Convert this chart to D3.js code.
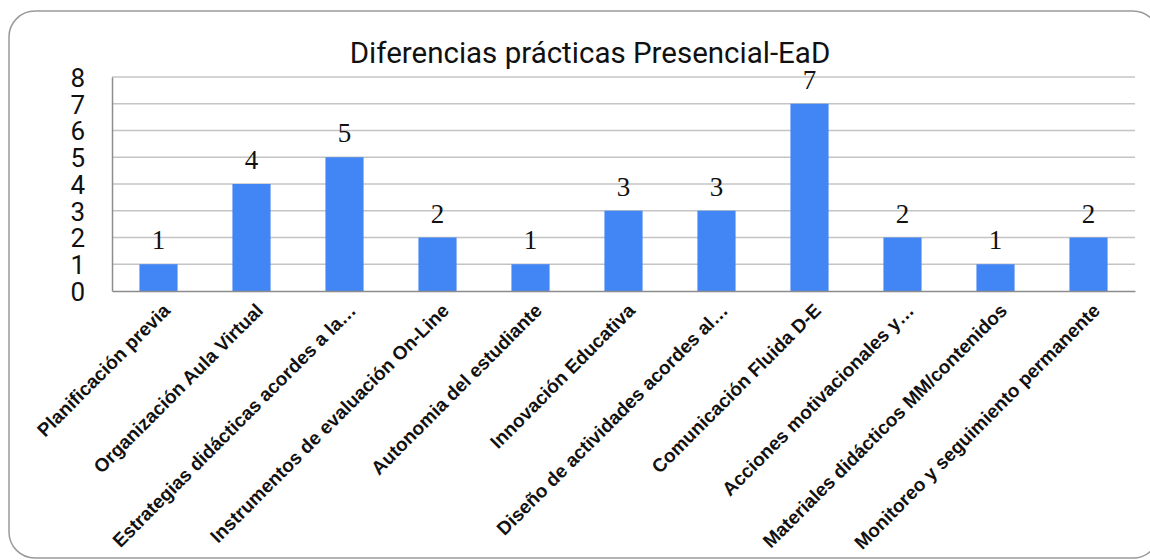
<!DOCTYPE html>
<html><head><meta charset="utf-8">
<script src="https://cdn.jsdelivr.net/npm/d3@7"></script>
<style>body{margin:0;background:#fff}svg{display:block}</style>
</head><body>
<svg id="c" width="1150" height="560"></svg>
<script>
const title = "Diferencias prácticas Presencial-EaD";
const categories = ["Planificación previa","Organización Aula Virtual","Estrategias didácticas acordes a la…","Instrumentos de evaluación On-Line","Autonomia del estudiante","Innovación Educativa","Diseño de actividades acordes al…","Comunicación Fluida D-E","Acciones motivacionales y…","Materiales didácticos MM/contenidos","Monitoreo y seguimiento permanente"];
const values = [1,4,5,2,1,3,3,7,2,1,2];
const yTicks = [0,1,2,3,4,5,6,7,8];

const svg = d3.select("#c");
svg.append("rect").attr("x",9).attr("y",11).attr("width",1150).attr("height",547)
  .attr("rx",26).attr("ry",26).attr("fill","#fff").attr("stroke","#9a9a9a").attr("stroke-width",1.5);

const L=112, R=1135, T=77, B=291;
const x = d3.scaleBand().domain(categories).range([L,R]).paddingInner(0.59).paddingOuter(0.295);
const y = d3.scaleLinear().domain([0,8]).range([B,T]);

svg.append("g").selectAll("line").data(yTicks.filter(d=>d>0)).join("line")
  .attr("x1",L).attr("x2",R).attr("y1",d=>y(d)).attr("y2",d=>y(d))
  .attr("stroke","#c4c4c4").attr("stroke-width",1.5);

svg.append("g").selectAll("rect").data(values).join("rect")
  .attr("x",(d,i)=>x(categories[i])).attr("width",x.bandwidth())
  .attr("y",d=>y(d)).attr("height",d=>B-y(d)).attr("fill","#4285F4");

const yAxis = d3.axisLeft(y).tickValues(yTicks).tickSize(0).tickPadding(27);
const gy = svg.append("g").attr("transform",`translate(${L},0)`).call(yAxis);
gy.select(".domain").attr("stroke","#8c8c8c").attr("stroke-width",1.5);
gy.selectAll("text").attr("font-family","Roboto").attr("font-size",26).attr("fill","#111").attr("dy","0.36em");

const xAxis = d3.axisBottom(x).tickSize(0).tickPadding(0);
const gx = svg.append("g").attr("transform",`translate(0,${B})`).call(xAxis);
gx.select(".domain").attr("stroke","#8c8c8c").attr("stroke-width",1.5);
gx.selectAll("text").attr("font-family","Liberation Sans, Arial").attr("font-weight","bold")
  .attr("font-size",19).attr("fill","#111").attr("text-anchor","end")
  .attr("transform","translate(8,16) rotate(-45)").attr("dy","0.35em").attr("y",0);

svg.append("g").selectAll("text").data(values).join("text")
  .attr("x",(d,i)=>x(categories[i])+x.bandwidth()/2).attr("y",d=>y(d)-15)
  .attr("text-anchor","middle").attr("font-family","Liberation Serif, DejaVu Serif, serif")
  .attr("font-size",27).attr("fill","#111").text(d=>d);

svg.append("text").attr("x",590).attr("y",63).attr("text-anchor","middle")
  .attr("font-family","Roboto").attr("font-size",29.5).attr("fill","#111").text(title);
</script>
</body></html>
